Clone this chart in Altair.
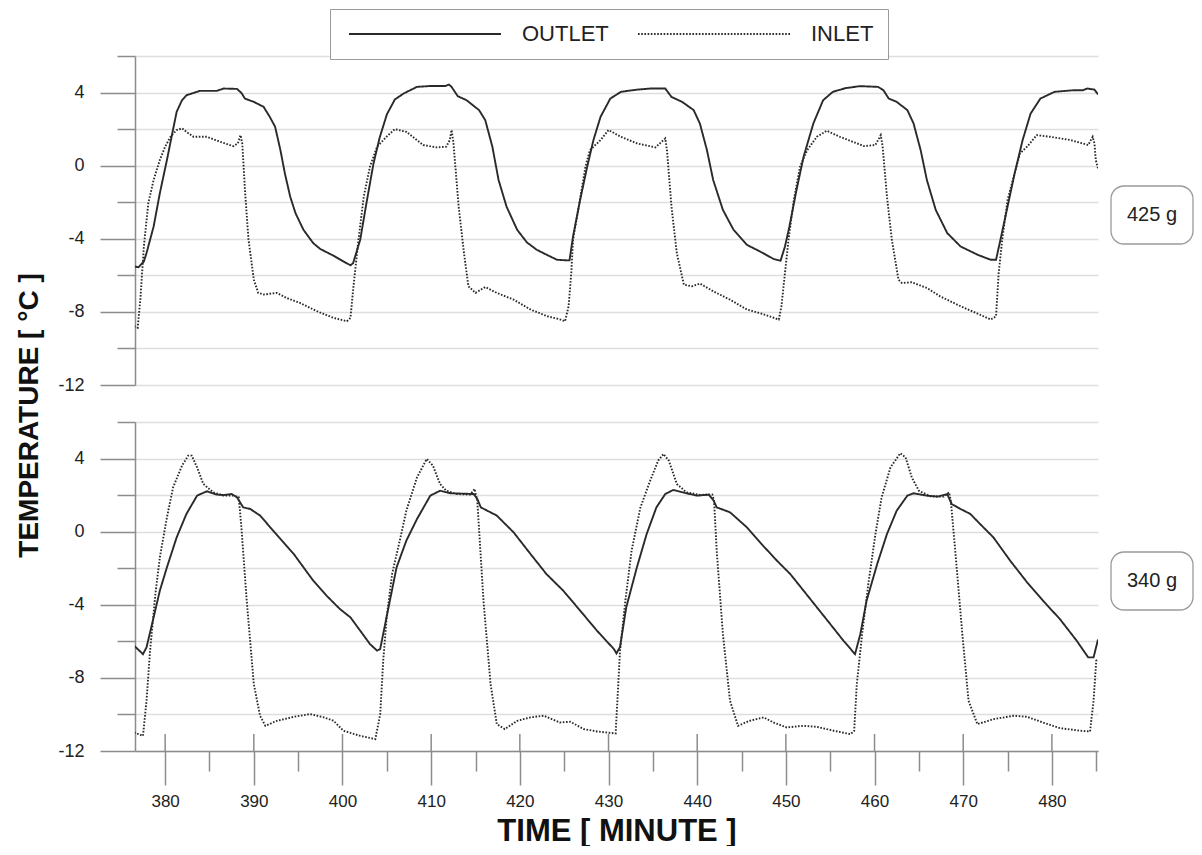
import altair as alt
import pandas as pd

# ---------------- data ----------------
SERIES = ["OUTLET", "INLET"]
PANEL_LABELS = ["425 g", "340 g"]
X_TICKS = [380, 385, 390, 395, 400, 405, 410, 415, 420, 425, 430, 435, 440,
           445, 450, 455, 460, 465, 470, 475, 480, 485]
MAJOR_X = [380, 390, 400, 410, 420, 430, 440, 450, 460, 470, 480]
Y_TICKS = [-12, -10, -8, -6, -4, -2, 0, 2, 4, 6]
X_DOMAIN = [376.6, 485.2]
Y_DOMAIN = [-12, 6]

OUTLET_425 = [
    (376.5, -5.51), (377.0, -5.56), (377.6, -5.24), (377.9, -4.78), (378.7, -3.33),
    (379.4, -1.51), (380.2, 0.31), (380.8, 1.76), (381.3, 2.95), (381.9, 3.58),
    (382.4, 3.85), (383.9, 4.09), (385.8, 4.09), (386.6, 4.22), (388.1, 4.2),
    (388.6, 3.98), (389.0, 3.67), (390.0, 3.49), (391.1, 3.22), (391.8, 2.67),
    (392.4, 2.13), (393.0, 0.85), (393.5, -0.42), (394.1, -1.69), (394.7, -2.6),
    (395.6, -3.51), (396.7, -4.24), (397.5, -4.56), (399.0, -4.93), (400.1, -5.24),
    (400.9, -5.45), (401.2, -5.33), (402.0, -4.05), (402.7, -2.05), (403.5, 0.13),
    (404.2, 1.55), (405.0, 2.8), (405.9, 3.62), (406.9, 3.95), (408.4, 4.31),
    (409.9, 4.36), (411.6, 4.36), (412.0, 4.44), (412.3, 4.31), (413.0, 3.8),
    (414.0, 3.58), (415.4, 3.04), (416.1, 2.49), (416.9, 1.04), (417.6, -0.78),
    (418.5, -2.24), (419.7, -3.51), (420.8, -4.2), (421.9, -4.6), (423.0, -4.87),
    (424.2, -5.15), (425.3, -5.18), (425.6, -5.18), (426.0, -3.87), (426.8, -1.87),
    (427.6, -0.05), (428.3, 1.4), (429.1, 2.67), (430.2, 3.67), (431.4, 4.04),
    (433.2, 4.16), (434.7, 4.22), (436.4, 4.22), (437.1, 3.76), (438.3, 3.49),
    (439.6, 3.04), (440.3, 2.31), (441.1, 0.85), (441.8, -0.78), (442.9, -2.42),
    (444.1, -3.51), (445.6, -4.33), (447.1, -4.7), (448.6, -5.1), (449.4, -5.2),
    (449.9, -4.42), (450.4, -3.33), (451.2, -1.33), (452.0, 0.49), (453.1, 2.31),
    (454.2, 3.58), (455.3, 4.04), (456.8, 4.25), (458.4, 4.35), (460.4, 4.31),
    (461.0, 4.13), (461.6, 3.67), (462.5, 3.49), (463.7, 3.04), (464.4, 2.31),
    (465.2, 0.85), (465.9, -0.78), (466.9, -2.42), (468.2, -3.69), (469.7, -4.42),
    (471.6, -4.87), (473.1, -5.15), (473.7, -5.15), (474.2, -4.05), (475.0, -2.24),
    (475.8, -0.42), (476.7, 1.4), (477.6, 2.85), (478.7, 3.67), (480.3, 4.04),
    (482.5, 4.13), (483.5, 4.13), (484.0, 4.22), (484.8, 4.16), (485.2, 3.9),
]

INLET_425 = [
    (376.5, -8.78), (376.9, -8.87), (377.2, -7.33), (377.6, -4.42), (378.1, -2.05),
    (378.7, -0.78), (379.4, 0.31), (380.0, 1.04), (380.6, 1.58), (381.3, 1.95),
    (381.9, 2.04), (382.4, 1.85), (383.2, 1.58), (384.7, 1.58), (386.2, 1.31),
    (387.7, 1.07), (388.2, 1.22), (388.5, 1.67), (388.7, 1.2), (389.0, -1.33),
    (389.4, -4.05), (390.0, -6.24), (390.5, -6.96), (391.1, -7.05), (392.6, -6.96),
    (393.7, -7.24), (395.2, -7.51), (397.1, -7.96), (399.0, -8.33), (400.5, -8.51),
    (400.9, -8.33), (401.2, -6.78), (401.8, -4.05), (402.4, -1.69), (403.1, -0.05),
    (403.9, 1.04), (405.0, 1.6), (405.9, 2.0), (407.2, 1.85), (409.1, 1.13),
    (410.6, 1.0), (411.7, 1.04), (412.1, 1.4), (412.3, 1.95), (412.5, 1.3),
    (413.1, -2.24), (413.7, -4.78), (414.2, -6.6), (415.0, -6.96), (416.1, -6.64),
    (417.4, -6.96), (419.3, -7.33), (421.2, -7.87), (423.1, -8.24), (424.6, -8.42),
    (425.1, -8.51), (425.5, -7.69), (425.8, -5.87), (426.0, -4.05), (426.8, -1.8),
    (427.4, -0.05), (427.9, 0.85), (429.1, 1.4), (430.0, 1.95), (431.4, 1.58),
    (433.2, 1.22), (435.3, 1.0), (436.2, 1.4), (436.4, 1.49), (436.6, 0.8),
    (437.1, -2.24), (437.7, -4.78), (438.5, -6.51), (439.4, -6.6), (440.3, -6.45),
    (441.8, -6.87), (443.7, -7.33), (445.6, -7.87), (447.3, -8.1), (449.2, -8.42),
    (449.5, -7.69), (449.9, -5.87), (450.3, -4.05), (450.9, -1.87), (451.6, -0.05),
    (452.4, 0.85), (453.5, 1.58), (454.6, 1.91), (456.1, 1.58), (458.8, 1.07),
    (460.1, 1.13), (460.7, 1.67), (460.9, 1.1), (461.4, -1.69), (461.95, -4.05),
    (462.7, -6.24), (463.1, -6.42), (464.2, -6.38), (465.9, -6.69), (467.4, -7.15),
    (469.7, -7.69), (471.6, -8.09), (473.1, -8.42), (473.7, -8.24), (474.0, -5.87),
    (474.4, -4.05), (475.0, -1.87), (475.8, -0.42), (476.4, 0.67), (477.2, 1.04),
    (478.3, 1.67), (479.8, 1.58), (482.1, 1.4), (484.1, 1.13), (484.6, 1.58),
    (484.8, 1.2), (484.95, 0.31), (485.2, -0.15),
]

OUTLET_340 = [
    (376.5, -6.24), (377.5, -6.7), (377.9, -6.33), (378.7, -4.69), (379.4, -3.23),
    (380.2, -1.95), (381.3, -0.31), (382.4, 0.97), (383.6, 1.97), (384.7, 2.21),
    (385.8, 2.03), (386.6, 2.0), (387.5, 2.06), (388.1, 1.88), (388.8, 1.33),
    (389.6, 1.24), (390.7, 0.88), (392.2, 0.05), (394.5, -1.22), (396.7, -2.68),
    (398.2, -3.5), (399.7, -4.23), (400.9, -4.69), (402.0, -5.42), (403.1, -6.15),
    (403.9, -6.51), (404.25, -6.42), (405.0, -4.6), (405.5, -3.4), (406.1, -1.95),
    (407.2, -0.49), (408.4, 0.69), (409.9, 1.97), (411.0, 2.24), (412.2, 2.1),
    (414.8, 2.06), (415.2, 1.79), (415.6, 1.33), (417.4, 0.88), (419.3, -0.04),
    (421.2, -1.22), (423.0, -2.32), (424.9, -3.23), (426.8, -4.32), (428.7, -5.42),
    (430.6, -6.42), (430.9, -6.66), (431.3, -6.3), (432.0, -4.14), (433.2, -1.95),
    (434.3, -0.13), (435.4, 1.33), (436.4, 2.06), (437.3, 2.28), (438.8, 2.1),
    (440.0, 1.97), (441.3, 2.03), (441.85, 1.7), (442.2, 1.33), (443.7, 1.06),
    (445.6, 0.24), (447.3, -0.7), (449.0, -1.59), (450.5, -2.32), (452.0, -3.23),
    (453.5, -4.14), (455.0, -5.05), (456.5, -5.97), (457.8, -6.7), (458.4, -5.6),
    (459.1, -3.78), (460.3, -1.77), (461.4, -0.13), (462.5, 1.15), (463.7, 1.97),
    (464.4, 2.1), (465.9, 1.97), (467.1, 1.92), (468.2, 2.06), (468.7, 1.51),
    (469.7, 1.24), (470.8, 0.97), (471.9, 0.42), (473.4, -0.31), (475.3, -1.59),
    (477.2, -2.77), (479.0, -3.78), (480.9, -4.78), (482.8, -5.97), (484.1, -6.88),
    (484.7, -6.88), (485.2, -5.9),
]

INLET_340 = [
    (376.5, -10.99), (377.5, -11.17), (377.9, -9.25), (378.3, -6.51), (378.9, -3.41),
    (379.4, -1.41), (380.2, 0.78), (380.9, 2.43), (381.9, 3.61), (382.6, 4.16),
    (383.0, 4.16), (383.6, 3.52), (384.3, 2.61), (385.45, 2.15), (386.6, 1.97),
    (387.7, 1.97), (388.3, 1.88), (388.6, 0.24), (389.2, -3.78), (390.0, -8.34),
    (390.7, -10.07), (391.3, -10.62), (392.6, -10.35), (394.5, -10.13), (396.35, -9.98),
    (397.9, -10.16), (399.0, -10.35), (400.1, -10.89), (402.0, -11.17), (403.7, -11.35),
    (404.25, -10.0), (404.6, -7.0), (405.0, -4.6), (405.6, -2.3), (406.5, -0.4),
    (407.2, 1.15), (408.4, 2.97), (409.5, 3.98), (410.2, 3.61), (411.0, 2.61),
    (411.7, 2.24), (412.9, 2.06), (414.4, 2.03), (414.9, 2.34), (415.2, 1.7),
    (415.9, -3.78), (416.7, -8.34), (417.4, -10.53), (418.3, -10.8), (419.7, -10.35),
    (421.2, -10.16), (422.7, -10.07), (424.5, -10.44), (425.7, -10.4), (427.2, -10.8),
    (428.7, -10.93), (430.8, -11.04), (431.0, -9.25), (431.3, -6.51), (431.9, -3.78),
    (432.6, -1.04), (433.6, 1.33), (434.7, 2.79), (435.6, 3.89), (436.2, 4.25),
    (436.8, 3.89), (437.7, 2.61), (438.8, 2.15), (440.35, 2.01), (441.7, 2.03),
    (441.9, 1.7), (442.2, -1.04), (442.9, -5.6), (443.7, -9.25), (444.6, -10.62),
    (445.9, -10.35), (447.5, -10.16), (448.6, -10.44), (450.1, -10.71), (452.0, -10.62),
    (453.5, -10.68), (455.4, -10.89), (457.3, -11.08), (457.7, -10.9), (458.0, -8.34),
    (458.6, -5.6), (459.3, -2.86), (460.1, -0.13), (460.8, 1.88), (461.8, 3.52),
    (462.9, 4.29), (463.5, 4.07), (464.2, 2.97), (465.0, 2.24), (466.3, 1.93),
    (467.8, 1.92), (468.4, 2.15), (468.6, 1.7), (469.1, -1.04), (469.9, -5.6),
    (470.6, -9.25), (471.6, -10.53), (473.4, -10.26), (475.7, -10.07), (477.2, -10.13),
    (479.0, -10.44), (480.9, -10.75), (483.2, -10.89), (484.3, -10.93), (484.7, -9.25),
    (485.0, -7.06), (485.2, -6.97),
]

# ---------------- style ----------------
W, H = 963, 329
INK = "#2a2a2a"
AXIS = "#8c8c8c"
GRID = "#dedede"
BOXSTROKE = "#9a9a9a"
FONT = "Liberation Sans"


def to_frame(outlet, inlet):
    rows = [{"time": t, "temp": v, "series": "OUTLET"} for t, v in outlet]
    rows += [{"time": t, "temp": v, "series": "INLET"} for t, v in inlet]
    return pd.DataFrame(rows)


def y_axis(with_title):
    kw = dict(
        values=Y_TICKS,
        labelExpr="datum.value % 4 === 0 ? ('' + datum.value) : ''",
        tickSize={"condition": {"test": "datum.value % 4 !== 0", "value": 18}, "value": 35},
        labelPadding=16, labelFont=FONT, labelFontSize=18, labelColor="#222",
        labelFlush=False,
        domainColor=AXIS, domainWidth=1.5, tickColor=AXIS, tickWidth=1.5,
        grid=True, gridColor=GRID, gridWidth=1.3,
    )
    if with_title:
        kw.update(titleFont=FONT, titleFontSize=28, titleFontWeight="bold",
                  titleColor="#111", titleAngle=270, titleX=-106, titleY=359,
                  titleAlign="center", titleBaseline="middle")
    return alt.Axis(**kw)


x_axis_bottom = alt.Axis(
    values=X_TICKS,
    labelExpr="datum.value % 10 === 0 ? ('' + datum.value) : ''",
    tickSize={"condition": {"test": "datum.value % 10 !== 0", "value": 20}, "value": 34},
    labelPadding=8, labelFont=FONT, labelFontSize=17, labelColor="#222",
    labelFlush=False,
    domainColor=AXIS, domainWidth=1.5, tickColor=AXIS, tickWidth=1.5, grid=False,
    titleFont=FONT, titleFontSize=31, titleFontWeight="bold", titleColor="#111",
    titlePadding=7,
)

legend_top = alt.Legend(
    title=None, orient="none", legendX=195, legendY=-47, direction="horizontal",
    symbolType="M-0.6,0H14.6", symbolSize=400, symbolStrokeWidth=2,
    symbolStrokeColor=INK, labelFont=FONT, labelFontSize=22, labelColor="#222",
    labelOffset=156, columnPadding=24, padding=14,
    strokeColor=BOXSTROKE, fillColor="white", cornerRadius=0,
)


def panel(df, label, bottom):
    xs = alt.Scale(domain=X_DOMAIN, nice=False, zero=False)
    ys = alt.Scale(domain=Y_DOMAIN, nice=False, zero=False)
    if bottom:
        x_enc = alt.X("time:Q", scale=xs, axis=x_axis_bottom, title="TIME [ MINUTE ]")
        y_enc = alt.Y("temp:Q", scale=ys, axis=y_axis(False), title=None)
        dash = alt.StrokeDash("series:N", scale=alt.Scale(domain=SERIES, range=[[1, 0], [1.6, 1.6]]),
                              sort=SERIES, legend=None)
    else:
        x_enc = alt.X("time:Q", scale=xs, axis=None)
        y_enc = alt.Y("temp:Q", scale=ys, axis=y_axis(True), title="TEMPERATURE [ °C ]")
        dash = alt.StrokeDash("series:N", scale=alt.Scale(domain=SERIES, range=[[1, 0], [1.6, 1.6]]),
                              sort=SERIES, legend=legend_top)

    lines = alt.Chart(df).mark_line(color=INK, strokeWidth=1.9, clip=True).encode(
        x=x_enc, y=y_enc, strokeDash=dash)

    box_df = pd.DataFrame({"label": [label]})
    box = alt.Chart(box_df).mark_rect(fill="white", stroke=BOXSTROKE, strokeWidth=1.3,
                                      cornerRadius=13).encode(
        x=alt.value(976), x2=alt.value(1058), y=alt.value(130), y2=alt.value(188))
    txt = alt.Chart(box_df).mark_text(font=FONT, fontSize=20, color="#222").encode(
        x=alt.value(1017), y=alt.value(159), text="label:N")

    layers = []
    if bottom:
        ticks = alt.Chart(pd.DataFrame({"time": MAJOR_X})).mark_rule(
            color=AXIS, strokeWidth=1.5).encode(
            x=alt.X("time:Q", scale=xs), y=alt.value(H - 17), y2=alt.value(H))
        layers.append(ticks)
    layers += [lines, box, txt]
    return alt.layer(*layers).properties(width=W, height=H)


top = panel(to_frame(OUTLET_425, INLET_425), PANEL_LABELS[0], bottom=False)
bot = panel(to_frame(OUTLET_340, INLET_340), PANEL_LABELS[1], bottom=True)

chart = (
    alt.vconcat(top, bot, spacing=37, bounds="flush")
    .resolve_scale(strokeDash="independent")
    .resolve_legend(strokeDash="independent")
    .properties(padding={"left": 7, "top": 0, "right": 0, "bottom": 0}, background="white")
    .configure_view(stroke=None)
)

chart.save("out.html", embed_options={"renderer": "svg", "actions": False})
